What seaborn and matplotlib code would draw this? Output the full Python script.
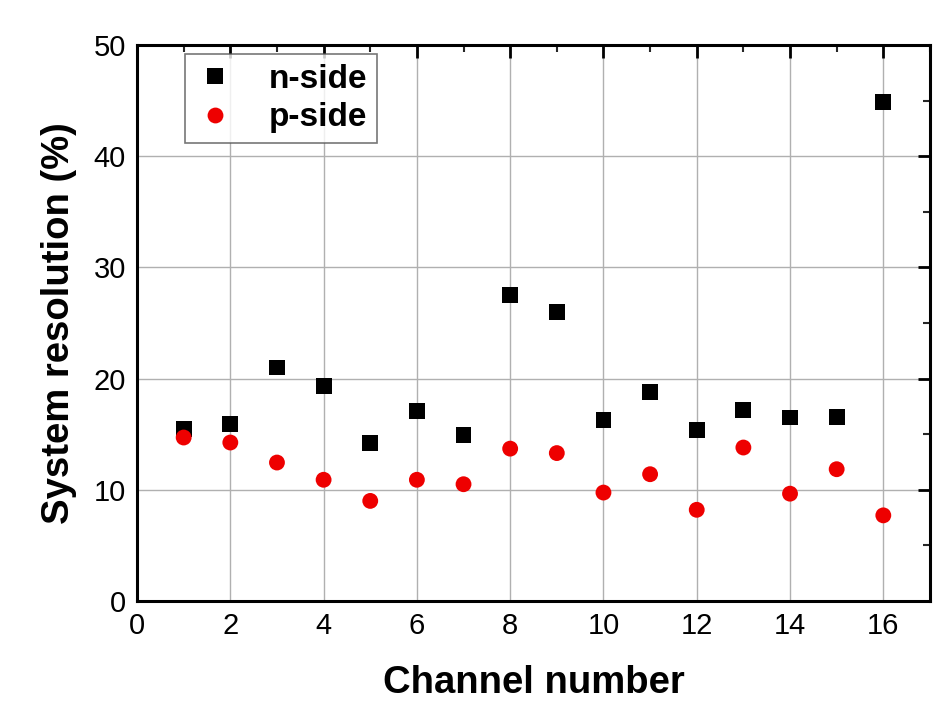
import matplotlib
matplotlib.use("Agg")
import matplotlib.pyplot as plt
import seaborn as sns
import pandas as pd
from matplotlib.ticker import MultipleLocator

channels = list(range(1, 17))
n_side = [15.5, 15.9, 21.0, 19.3, 14.2, 17.1, 14.9, 27.5, 26.0, 16.3, 18.8, 15.4, 17.2, 16.5, 16.55, 44.9]
p_side = [14.7, 14.25, 12.45, 10.9, 9.0, 10.9, 10.5, 13.7, 13.3, 9.75, 11.4, 8.2, 13.8, 9.65, 11.85, 7.7]
series_names = ["n-side", "p-side"]

df = pd.DataFrame({
    "Channel": channels * 2,
    "Resolution": n_side + p_side,
    "Side": [series_names[0]] * len(channels) + [series_names[1]] * len(channels),
})

sns.set_style("white")
plt.rcParams["font.family"] = ["Liberation Sans", "DejaVu Sans"]
plt.rcParams["text.color"] = "black"
plt.rcParams["axes.labelcolor"] = "black"

fig = plt.figure(figsize=(9.47, 7.17), dpi=100)
ax = fig.add_axes([0.1447, 0.1618, 0.8373, 0.7755])

sns.scatterplot(
    data=df, x="Channel", y="Resolution", hue="Side", style="Side",
    palette={"n-side": "black", "p-side": "#ee0000"},
    markers={"n-side": "s", "p-side": "o"},
    s=130, linewidth=0, ax=ax, zorder=3,
)

ax.set_xlim(0, 17)
ax.set_ylim(0, 50)
ax.xaxis.set_major_locator(MultipleLocator(2))
ax.xaxis.set_minor_locator(MultipleLocator(1))
ax.yaxis.set_major_locator(MultipleLocator(10))
ax.yaxis.set_minor_locator(MultipleLocator(5))
ax.grid(True, which="major", color="#b0b0b0", linewidth=1.0)
ax.set_axisbelow(True)
for sp in ax.spines.values():
    sp.set_color("black")
    sp.set_linewidth(2.2)
ax.tick_params(which="major", direction="in", length=9, width=2, top=True, right=True,
               labelsize=21, pad=8, colors="black")
ax.tick_params(which="minor", direction="in", length=5, width=1.5, top=True, right=True)

ax.set_xlabel("Channel number", fontsize=27.5, fontweight="bold", labelpad=18, color="black")
ax.set_ylabel("System resolution (%)", fontsize=27.5, fontweight="bold", labelpad=12, color="black")

leg = ax.legend(loc="upper left", bbox_to_anchor=(0.0605, 0.984), borderaxespad=0,
                prop={"weight": "bold", "size": 24}, frameon=True, fancybox=False,
                edgecolor="#555555", markerscale=1.0, handlelength=1.2, handletextpad=1.0,
                borderpad=0.3, labelspacing=0.22, title=None)
leg.get_frame().set_linewidth(1.2)
for t in leg.get_texts():
    t.set_color("black")

fig.savefig("out.png", dpi=100)
